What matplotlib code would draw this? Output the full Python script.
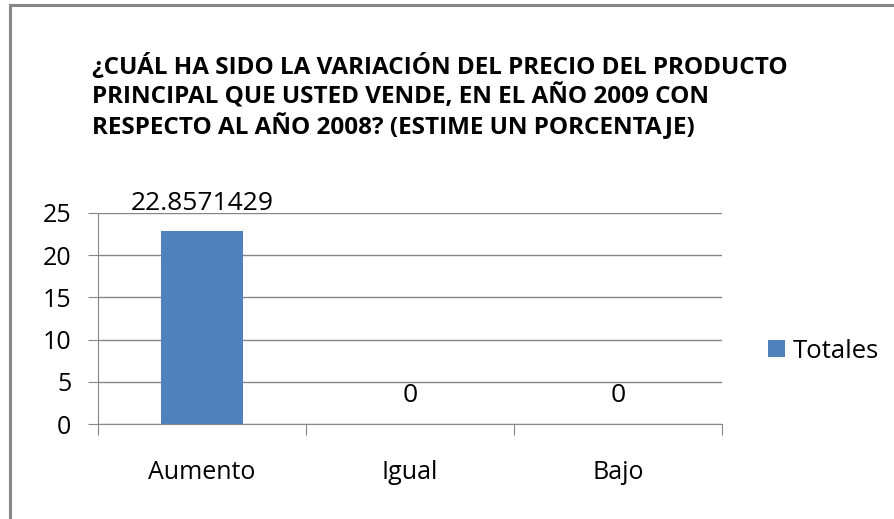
import matplotlib.pyplot as plt
from matplotlib.patches import Rectangle

titulo = ("¿CUÁL HA SIDO LA VARIACIÓN DEL PRECIO DEL PRODUCTO\n"
          "PRINCIPAL QUE USTED VENDE, EN EL AÑO 2009 CON\n"
          "RESPECTO AL AÑO 2008? (ESTIME UN PORCENTAJE)")
categorias = ["Aumento", "Igual", "Bajo"]
totales = [22.8571429, 0, 0]
etiquetas = ["22.8571429", "0", "0"]
yticks = [0, 5, 10, 15, 20, 25]

plt.rcParams['font.family'] = ['Open Sans', 'DejaVu Sans']
gris = '#868686'
azul = '#4F81BD'

fig = plt.figure(figsize=(8.95, 5.19), dpi=100)
# marco del grafico (solo se ven los bordes superior e izquierdo)
fig.patches.append(Rectangle((10.5/895, -0.1), 1.2, 1 - 5.5/519 + 0.1,
                             transform=fig.transFigure, fill=False,
                             edgecolor='#878787', linewidth=2.2))

fig.text(92/895, 1 - 54/519, titulo, ha='left', va='top', fontsize=17.5,
         fontweight='bold', linespacing=1.2)

ax = fig.add_axes([98/895, 1 - 424/519, 624/895, 211/519])
x = range(len(categorias))
barras = ax.bar(x, totales, width=0.39, color=azul, label='Totales', zorder=3)
for xi, v, t in zip(x, totales, etiquetas):
    ax.annotate(t, (xi, v), xytext=(0, 15.5), textcoords='offset points',
                ha='center', va='baseline', fontsize=19)

ax.set_xlim(-0.5, 2.5)
ax.set_ylim(0, 25)
ax.set_yticks(yticks)
ax.set_yticklabels([str(v) for v in yticks], fontsize=18)
ax.yaxis.grid(True, color=gris, linewidth=1)
ax.tick_params(axis='y', length=7.2, color=gris, pad=12)

ax.set_xticks([-0.5, 0.5, 1.5, 2.5])
ax.set_xticklabels([])
ax.tick_params(axis='x', length=8, color=gris)
ax.set_xticks(list(x), minor=True)
ax.set_xticklabels(categorias, minor=True, fontsize=18)
ax.tick_params(axis='x', which='minor', length=0, pad=26)

for s in ['top', 'right']:
    ax.spines[s].set_visible(False)
ax.spines['left'].set_color(gris)
ax.spines['bottom'].set_color(gris)

fig.legend(handles=[barras], labels=['Totales'], loc='center left',
           bbox_to_anchor=(768/895, 1 - 351/519), frameon=False, fontsize=18.5,
           borderpad=0, borderaxespad=0,
           handlelength=0.66, handleheight=0.66, handletextpad=0.31)

fig.savefig('out.png', dpi=100)
